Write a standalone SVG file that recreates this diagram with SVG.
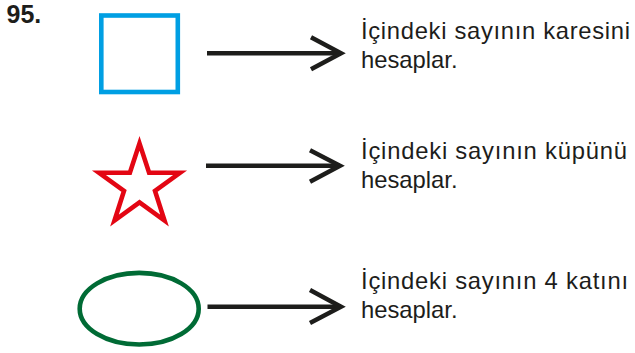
<svg xmlns="http://www.w3.org/2000/svg" width="635" height="353" viewBox="0 0 635 353">
<style>
text{font-family:"Liberation Sans",Arial,sans-serif;fill:#1d1d1b}
.lbl{font-size:23.8px}
.num{font-size:25px;font-weight:bold}
.arr{fill:none;stroke:#1d1d1b;stroke-width:4.5}
</style>
<rect width="635" height="353" fill="#fff"/>
<text class="num" x="6.5" y="22.7">95.</text>
<g id="square"><rect x="101.3" y="15.5" width="76.5" height="76.5" fill="none" stroke="#009fe3" stroke-width="4.6"/></g>
<g id="star"><polygon fill="none" stroke="#e30613" stroke-width="4.6" stroke-linejoin="miter" stroke-miterlimit="10" points="139.5,143.4 149.1,172.8 180,172.8 155,191 164.5,220.5 139.5,202.3 114.5,220.5 124,191 99,172.8 129.9,172.8"/></g>
<g id="ellipse"><ellipse cx="139.2" cy="308.7" rx="59.5" ry="35.8" fill="none" stroke="#006b35" stroke-width="4.6"/></g>
<g id="connectors">
<path class="arr" d="M207,53.3H341"/><path class="arr" d="M311,37.3L341,53.3L311,69.3"/>
<path class="arr" d="M206,165.7H340"/><path class="arr" d="M310,150.2L340,165.7L310,181.7"/>
<path class="arr" d="M207.5,306.7H341"/><path class="arr" d="M310,290L341,306.7L310,323"/>
</g>
<g id="t1"><text class="lbl" x="361" y="39.3" textLength="269">İçindeki sayının karesini</text><text class="lbl" x="361" y="67.5">hesaplar.</text></g>
<g id="t2"><text class="lbl" x="361" y="159.3" textLength="266">İçindeki sayının küpünü</text><text class="lbl" x="361" y="187.5">hesaplar.</text></g>
<g id="t3"><text class="lbl" x="361" y="289.3" textLength="267">İçindeki sayının 4 katını</text><text class="lbl" x="361" y="317.5">hesaplar.</text></g>
</svg>
